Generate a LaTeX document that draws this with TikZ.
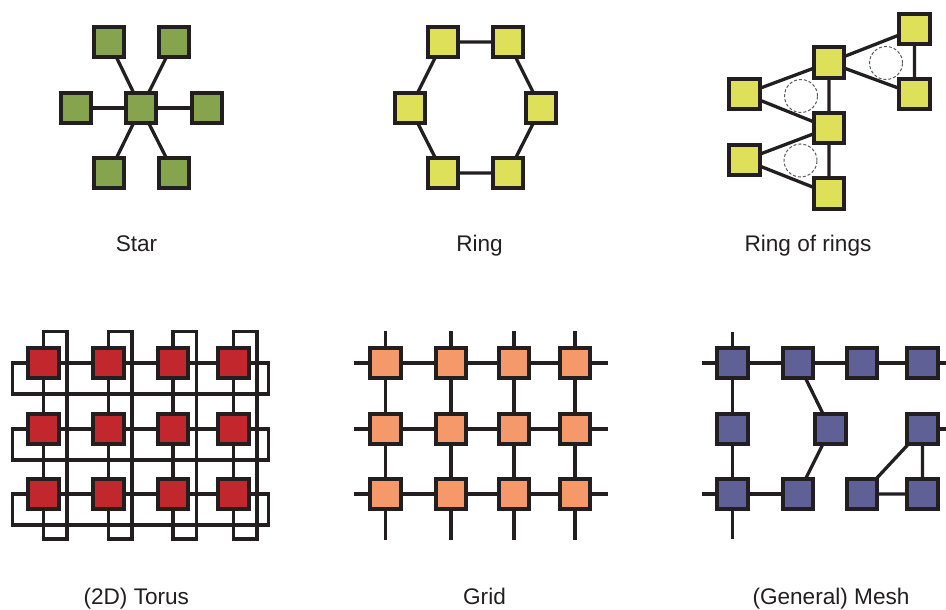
\documentclass[tikz,border=0pt]{standalone}
\usepackage{fontspec}
\setmainfont{Liberation Sans}
\usetikzlibrary{calc,backgrounds}
\definecolor{bd}{HTML}{231F20}
\definecolor{cgreen}{HTML}{86A34E}
\definecolor{cyellow}{HTML}{DDE058}
\definecolor{cred}{HTML}{C1272D}
\definecolor{corange}{HTML}{F5986A}
\definecolor{cpurple}{HTML}{5F6096}
\begin{document}
\begin{tikzpicture}[x=1pt,y=-1pt,
  box/.style={draw=bd, line width=3.9pt, minimum size=30.5pt, inner sep=0pt, rectangle},
  lnk/.style={draw=bd, line width=3.3pt},
  lbl/.style={anchor=base, font=\fontsize{22.6}{26}\selectfont, text=bd, inner sep=0pt},
  dcirc/.style={draw=black!65, line width=1pt, dash pattern=on 3pt off 2pt, circle, minimum size=33pt, inner sep=0pt}]
\useasboundingbox (0,0) rectangle (946,610);

% ---------- Star ----------
\node[box, fill=cgreen] (s0) at (141,108) {};
\node[box, fill=cgreen] (s1) at (109,42) {};
\node[box, fill=cgreen] (s2) at (174,42) {};
\node[box, fill=cgreen] (s3) at (76,108) {};
\node[box, fill=cgreen] (s4) at (207,108) {};
\node[box, fill=cgreen] (s5) at (109,173) {};
\node[box, fill=cgreen] (s6) at (174,173) {};
\begin{scope}[on background layer]
  \foreach \n in {1,...,6} \draw[lnk] (s0.center) -- (s\n.center);
\end{scope}
\node[lbl] (lstar) at (136.5,251.5) {Star};

% ---------- Ring ----------
\node[box, fill=cyellow] (r1) at (443,42) {};
\node[box, fill=cyellow] (r2) at (508,42) {};
\node[box, fill=cyellow] (r3) at (541,108) {};
\node[box, fill=cyellow] (r4) at (508,173) {};
\node[box, fill=cyellow] (r5) at (443,173) {};
\node[box, fill=cyellow] (r6) at (410,108) {};
\begin{scope}[on background layer]
  \draw[lnk] (r1.center) -- (r2.center) -- (r3.center) -- (r4.center) -- (r5.center) -- (r6.center) -- cycle;
\end{scope}
\node[lbl] (lring) at (479.5,251.5) {Ring};

% ---------- Ring of rings ----------
\node[dcirc] (ca) at (886,63) {};
\node[dcirc] (cb) at (801,96) {};
\node[dcirc] (cc) at (800.5,160.5) {};
\node[box, fill=cyellow] (qa) at (914.5,29) {};
\node[box, fill=cyellow] (qb) at (914.5,94) {};
\node[box, fill=cyellow] (qc) at (829,62.5) {};
\node[box, fill=cyellow] (qd) at (744.5,94) {};
\node[box, fill=cyellow] (qe) at (829,128) {};
\node[box, fill=cyellow] (qf) at (744.5,160) {};
\node[box, fill=cyellow] (qg) at (829,193.5) {};
\begin{scope}[on background layer]
  \draw[lnk] (qc.center) -- (qa.center) -- (qb.center) -- cycle;
  \draw[lnk] (qd.center) -- (qc.center) -- (qe.center) -- cycle;
  \draw[lnk] (qf.center) -- (qe.center) -- (qg.center) -- cycle;
\end{scope}
\node[lbl] (lror) at (808,251.5) {Ring of rings};

% ---------- Torus ----------
\foreach \x [count=\c] in {43.5,108.5,173,233.5}
  \foreach \y [count=\r] in {363,429,494}
    \node[box, fill=cred] (t\r\c) at (\x,\y) {};
\begin{scope}[on background layer]
  \foreach \r in {1,2,3} {
    \draw[lnk] (t\r1.center) -- (t\r2.center) -- (t\r3.center) -- (t\r4.center);
    \draw[lnk] (t\r1.center) -| ++(-31.2,31) -| ($(t\r4.center)+(35,0)$) -- (t\r4.center);
  }
  \foreach \c in {1,2,3,4} {
    \draw[lnk] (t1\c.center) -- (t2\c.center) -- (t3\c.center);
    \draw[lnk] (t1\c.center) |- ++(23.5,-31.5) -- ++(0,207.5) -| (t3\c.center);
  }
\end{scope}
\node[lbl] (ltorus) at (136.3,604) {(2D) Torus};

% ---------- Grid ----------
\foreach \x [count=\c] in {385.5,451,514,575}
  \foreach \y [count=\r] in {363,429,494}
    \node[box, fill=corange] (g\r\c) at (\x,\y) {};
\begin{scope}[on background layer]
  \foreach \r in {1,2,3} {
    \draw[lnk] (g\r1.center) -- (g\r2.center) -- (g\r3.center) -- (g\r4.center);
    \draw[lnk] (g\r1.center) -- ++(-31.5,0);
    \draw[lnk] (g\r4.center) -- ++(33,0);
  }
  \foreach \c in {1,2,3,4} {
    \draw[lnk] (g1\c.center) -- (g2\c.center) -- (g3\c.center);
    \draw[lnk] (g1\c.center) -- ++(0,-32);
    \draw[lnk] (g3\c.center) -- ++(0,46);
  }
\end{scope}
\node[lbl] (lgrid) at (484.5,604) {Grid};

% ---------- Mesh ----------
\node[box, fill=cpurple] (m11) at (732.5,363) {};
\node[box, fill=cpurple] (m12) at (798,363) {};
\node[box, fill=cpurple] (m13) at (862,363) {};
\node[box, fill=cpurple] (m14) at (922.5,363) {};
\node[box, fill=cpurple] (m21) at (732.5,429) {};
\node[box, fill=cpurple] (m22) at (830.5,429) {};
\node[box, fill=cpurple] (m24) at (922.5,429) {};
\node[box, fill=cpurple] (m31) at (732.5,494) {};
\node[box, fill=cpurple] (m32) at (798,494) {};
\node[box, fill=cpurple] (m33) at (862,494) {};
\node[box, fill=cpurple] (m34) at (922.5,494) {};
\coordinate (me1) at (946,363);
\coordinate (me2) at (946,429);
\begin{scope}[on background layer]
  \draw[lnk] (m11.center) -- (m12.center) -- (m13.center) -- (m14.center) -- (me1);
  \draw[lnk] (m11.center) -- (m21.center) -- (m31.center) -- (m32.center);
  \draw[lnk] (m12.center) -- (m22.center) -- (m32.center);
  \draw[lnk] (m33.center) -- (m34.center) -- (m24.center) -- (m33.center);
  \draw[lnk] (m24.center) -- (me2);
  \draw[lnk] (m11.center) -- ++(0,-31.5);
  \draw[lnk] (m11.center) -- ++(-31,0);
  \draw[lnk] (m31.center) -- ++(-31,0);
  \draw[lnk] (m31.center) -- ++(0,45);
\end{scope}
\node[lbl] (lmesh) at (831,604) {(General) Mesh};
\end{tikzpicture}
\end{document}
